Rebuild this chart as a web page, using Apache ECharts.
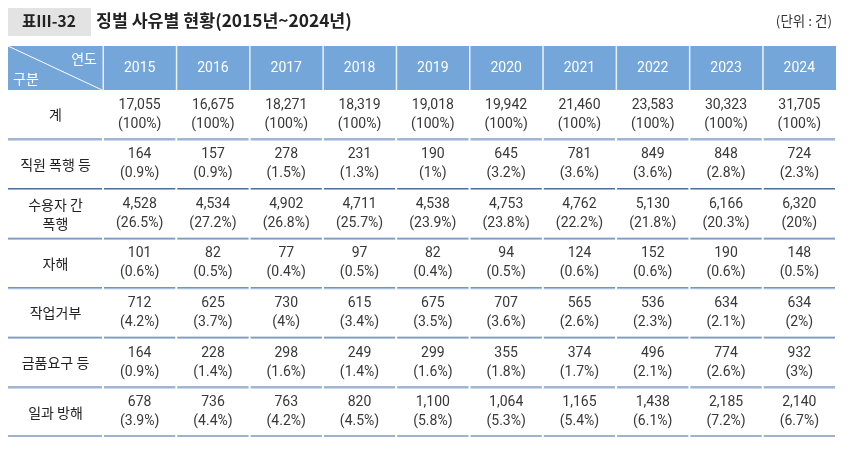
<!DOCTYPE html>
<html>
<head>
<meta charset="utf-8">
<script src="https://cdn.jsdelivr.net/npm/echarts@6/dist/echarts.min.js"></script>
<style>html,body{margin:0;padding:0;background:#fff}#c{width:852px;height:454px}</style>
</head>
<body>
<div id="c"></div>
<script>
const tableNo = '표Ⅲ-32';
const title = '징벌 사유별 현황(2015년~2024년)';
const unit = '(단위 : 건)';
const years = ['2015','2016','2017','2018','2019','2020','2021','2022','2023','2024'];
const categories = ['계','직원 폭행 등','수용자 간\n폭행','자해','작업거부','금품요구 등','일과 방해'];
const totalCount   = [17055,16675,18271,18319,19018,19942,21460,23583,30323,31705];
const totalPct     = [100,100,100,100,100,100,100,100,100,100];
const staffCount   = [164,157,278,231,190,645,781,849,848,724];
const staffPct     = [0.9,0.9,1.5,1.3,1,3.2,3.6,3.6,2.8,2.3];
const inmateCount  = [4528,4534,4902,4711,4538,4753,4762,5130,6166,6320];
const inmatePct    = [26.5,27.2,26.8,25.7,23.9,23.8,22.2,21.8,20.3,20];
const selfCount    = [101,82,77,97,82,94,124,152,190,148];
const selfPct      = [0.6,0.5,0.4,0.5,0.4,0.5,0.6,0.6,0.6,0.5];
const refuseCount  = [712,625,730,615,675,707,565,536,634,634];
const refusePct    = [4.2,3.7,4,3.4,3.5,3.6,2.6,2.3,2.1,2];
const demandCount  = [164,228,298,249,299,355,374,496,774,932];
const demandPct    = [0.9,1.4,1.6,1.4,1.6,1.8,1.7,2.1,2.6,3];
const disruptCount = [678,736,763,820,1100,1064,1165,1438,2185,2140];
const disruptPct   = [3.9,4.4,4.2,4.5,5.8,5.3,5.4,6.1,7.2,6.7];

const counts = [totalCount, staffCount, inmateCount, selfCount, refuseCount, demandCount, disruptCount];
const pcts = [totalPct, staffPct, inmatePct, selfPct, refusePct, demandPct, disruptPct];

const FONT = 'Roboto, "Noto Sans CJK KR", sans-serif';
const KFONT = '"Noto Sans CJK KR", Roboto, sans-serif';
const HEAD_BLUE = '#74a6d9';
const LABEL_W = 1.296; // first column width in data-column units
const HEAD_H = 0.887;  // header height in row units
const nRows = categories.length;

const bodyData = [];
counts.forEach((arr, r) => arr.forEach((v, c) => bodyData.push([c, r, v, pcts[r][c]])));

function sepLines(x0, x1, yb, last) {
  if (last) {
    return [{type:'rect', shape:{x:x0+1, y:yb-2, width:x1-x0-2, height:2}, style:{fill:'#9fb1cc'}}];
  }
  return [
    {type:'rect', shape:{x:x0+1, y:yb-1, width:x1-x0-2, height:1}, style:{fill:'#4f6f9f'}},
    {type:'rect', shape:{x:x0+1, y:yb, width:x1-x0-2, height:1}, style:{fill:'#93b5dd'}}
  ];
}

const chart = echarts.init(document.getElementById('c'), null, {renderer:'canvas'});
chart.setOption({
  animation: false,
  title: [
    {text: tableNo, left: 22, top: 13, padding: 0, textStyle:{fontFamily: KFONT, fontSize: 15.5, fontWeight: 'bold', color:'#222'}},
    {text: title, left: 96, top: 12, padding: 0, textStyle:{fontFamily: KFONT, fontSize: 17.3, fontWeight: 'bold', color:'#222'}},
    {text: unit, right: 20, top: 14, padding: 0, textStyle:{fontFamily: KFONT, fontSize: 13.5, fontWeight: 'normal', color:'#333'}}
  ],
  graphic: [
    {type:'rect', left: 8, top: 8, shape:{width: 83, height: 28}, style:{fill:'#e3e3e3'}, z: -1}
  ],
  grid: {left: 8, right: 16, top: 46, bottom: 17},
  xAxis: {type:'value', min: -LABEL_W, max: years.length, show: false},
  yAxis: {type:'value', min: -HEAD_H, max: nRows, inverse: true, show: false},
  series: [
    {
      type: 'custom', name: 'corner', data: [[0]],
      renderItem: (params, api) => {
        const p0 = api.coord([-LABEL_W, -HEAD_H]);
        const p1 = api.coord([0, 0]);
        return {type:'group', children:[
          {type:'rect', shape:{x:p0[0], y:p0[1], width:p1[0]-p0[0], height:p1[1]-p0[1]}, style:{fill:HEAD_BLUE}},
          {type:'line', shape:{x1:p0[0], y1:p0[1], x2:p1[0]-1, y2:p1[1]}, style:{stroke:'#fff', lineWidth:1}},
          {type:'text', style:{text:'연도', x:p1[0]-6, y:p0[1]+13, align:'right', verticalAlign:'middle', fill:'#fff', font:'14px ' + KFONT}},
          {type:'text', style:{text:'구분', x:p0[0]+5, y:p1[1]-11, align:'left', verticalAlign:'middle', fill:'#fff', font:'14px ' + KFONT}}
        ]};
      }
    },
    {
      type: 'custom', name: 'header', data: years.map((y, i) => [i, y]),
      renderItem: (params, api) => {
        const i = api.value(0);
        const p0 = api.coord([i, -HEAD_H]);
        const p1 = api.coord([i + 1, 0]);
        return {type:'group', children:[
          {type:'rect', shape:{x:p0[0], y:p0[1], width:p1[0]-p0[0], height:p1[1]-p0[1]}, style:{fill:HEAD_BLUE}},
          {type:'rect', shape:{x:p0[0]-0.5, y:p0[1], width:1.5, height:p1[1]-p0[1]}, style:{fill:'#e8f0fa'}},
          {type:'text', style:{text:years[i], x:(p0[0]+p1[0])/2, y:(p0[1]+p1[1])/2 + 1, align:'center', verticalAlign:'middle', fill:'#fff', font:'14px ' + FONT}}
        ]};
      }
    },
    {
      type: 'custom', name: 'rowLabels', data: categories.map((c, r) => [r]),
      renderItem: (params, api) => {
        const r = api.value(0);
        const p0 = api.coord([-LABEL_W, r]);
        const p1 = api.coord([0, r + 1]);
        return {type:'group', children:[
          {type:'text', style:{text:categories[r], x:(p0[0]+p1[0])/2, y:(p0[1]+p1[1])/2, align:'center', verticalAlign:'middle', fill:'#222', font:'14px ' + KFONT, lineHeight: 19}}
        ].concat(sepLines(p0[0]-1, p1[0], p1[1], r === nRows - 1))};
      }
    },
    {
      type: 'custom', name: 'body', data: bodyData,
      renderItem: (params, api) => {
        const c = api.value(0), r = api.value(1), v = api.value(2), p = api.value(3);
        const p0 = api.coord([c, r]);
        const p1 = api.coord([c + 1, r + 1]);
        const txt = v.toLocaleString('en-US') + '\n(' + p + '%)';
        return {type:'group', children:[
          {type:'text', style:{text:txt, x:(p0[0]+p1[0])/2, y:(p0[1]+p1[1])/2, align:'center', verticalAlign:'middle', fill:'#383838', font:'14px ' + FONT, lineHeight: 19}}
        ].concat(sepLines(p0[0], p1[0], p1[1], r === nRows - 1))};
      }
    }
  ]
});
</script>
</body>
</html>
